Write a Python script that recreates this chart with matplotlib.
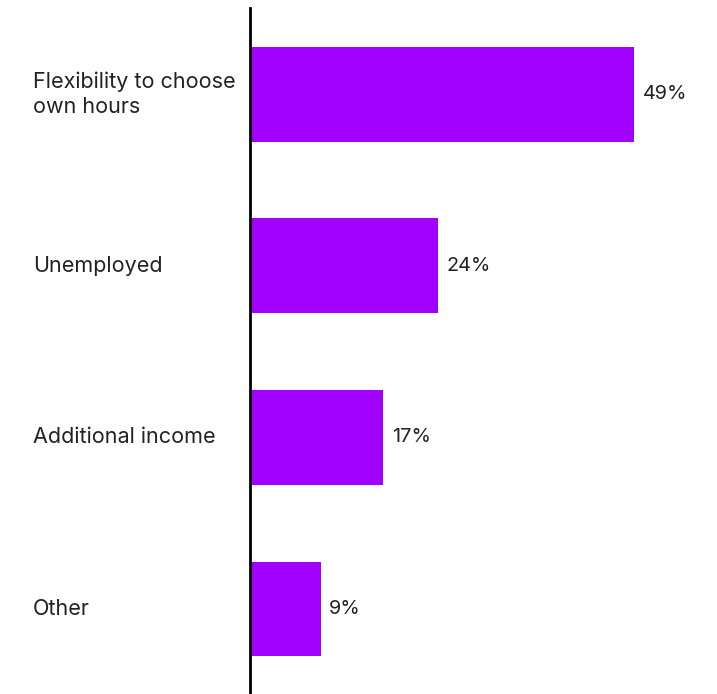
import matplotlib
matplotlib.use("Agg")
import matplotlib.pyplot as plt

categories = ["Flexibility to choose\nown hours", "Unemployed", "Additional income", "Other"]
values = [49, 24, 17, 9]
value_labels = ["49%", "24%", "17%", "9%"]

plt.rcParams['font.family'] = ['Inter', 'DejaVu Sans']

W, H = 717, 694
fig = plt.figure(figsize=(W/100, H/100), dpi=100)
ax = fig.add_axes([250/W, -0.8/H, 1 - 250/W, 1 - 7.5/H])

ypos = list(range(len(categories)))
ax.barh(ypos, values, height=0.553, color="#A100FF")
ax.set_ylim(len(categories) - 0.5, -0.5)
ax.set_xlim(0, (W - 250) / 7.84)

for y, v, lab in zip(ypos, values, value_labels):
    ax.text(v + 1.1, y, lab, va="center", ha="left", fontsize=14.3, color="#222222")

for y, c in zip(ypos, categories):
    ax.text(-(250 - 33) / 7.84, y, c, va="center", ha="left", fontsize=15.5,
            color="#222222", linespacing=1.28)

for s in ["top", "right", "bottom"]:
    ax.spines[s].set_visible(False)
ax.spines["left"].set_linewidth(2)
ax.spines["left"].set_color("black")
ax.set_xticks([])
ax.set_yticks([])

fig.savefig("out.png", dpi=100)
